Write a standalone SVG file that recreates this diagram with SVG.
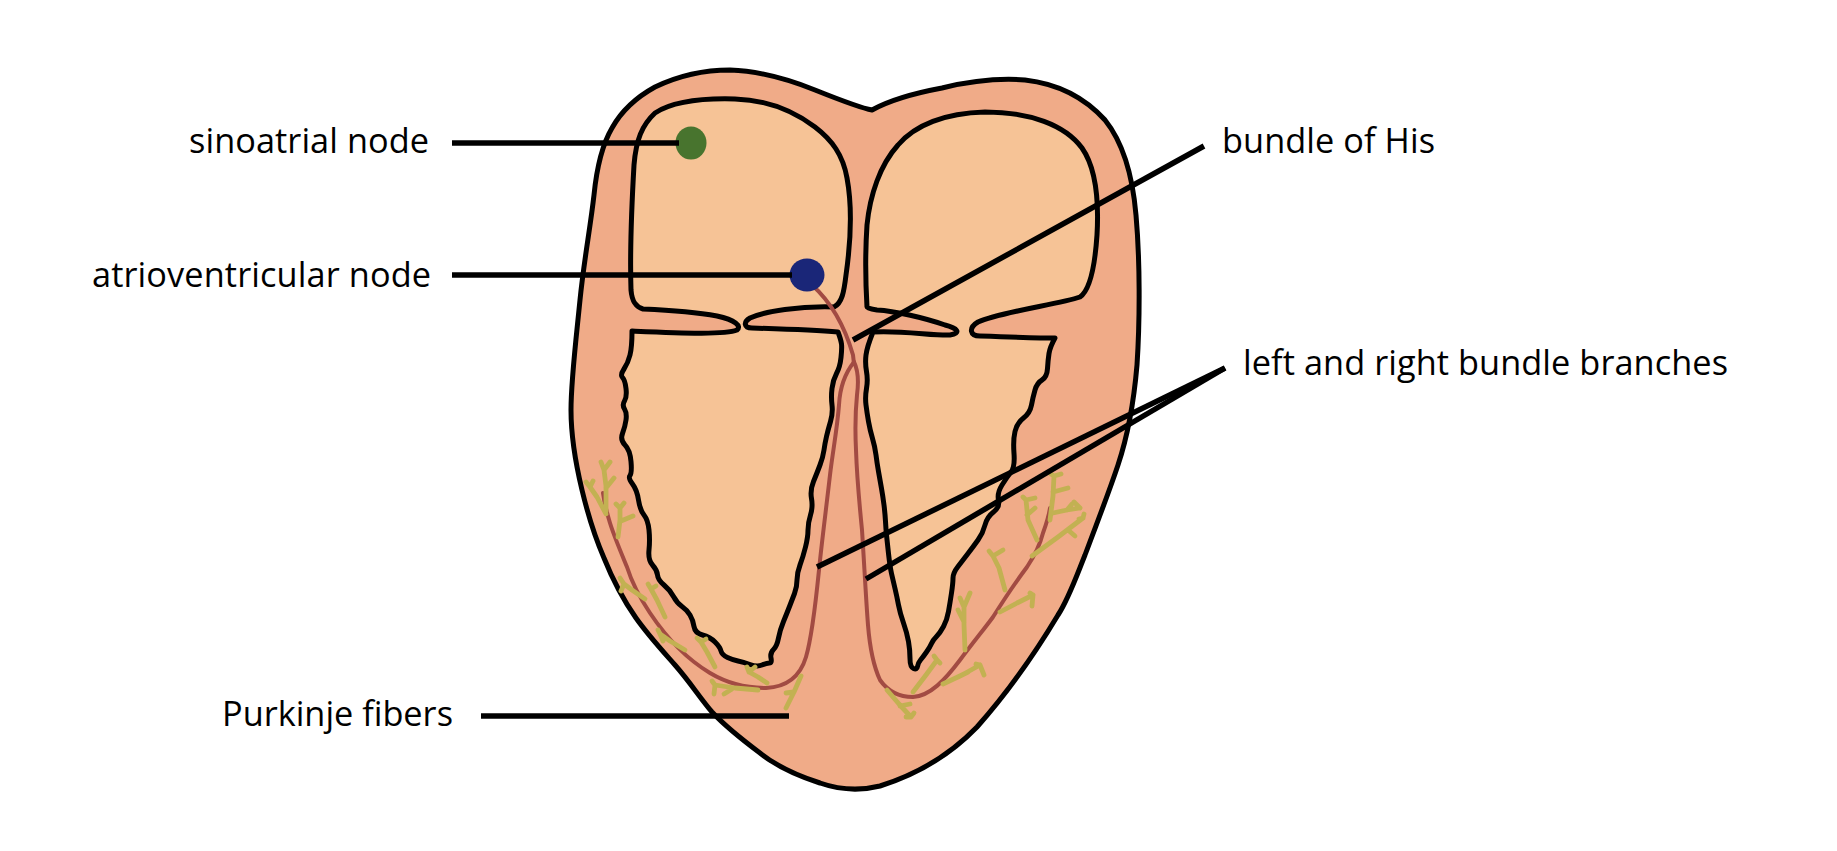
<svg xmlns="http://www.w3.org/2000/svg" width="1837" height="851" viewBox="0 0 1837 851">
<style>
.wall{fill:#F0AB88;stroke:#000;stroke-width:5;stroke-linejoin:round}
.cav{fill:#F6C396;stroke:#000;stroke-width:5;stroke-linejoin:round}
.fib{fill:none;stroke:#A24B43;stroke-width:4;stroke-linecap:round;stroke-linejoin:round}
.pk{fill:none;stroke:#C2B152;stroke-width:4.8;stroke-linecap:round;stroke-linejoin:round}
.ln{stroke:#000;stroke-width:5.5;fill:none}
.lbl{font-family:"Open Sans","Noto Sans",sans-serif;font-size:34.3px;fill:#000}
</style>
<rect width="1837" height="851" fill="#fff"/>
<g id="heart">
<path id="outer-wall" class="wall" d="M872,110 C890,100 910,94 942,88 C975,80 1000,78 1025,80 C1060,84 1085,98 1105,120 C1125,145 1133,180 1136,215 C1140,260 1140,320 1137,365 C1134,400 1128,435 1118,465 C1108,495 1098,520 1085,555 C1075,580 1068,600 1058,615 C1040,645 1010,690 977,727 C950,755 915,775 880,786 C860,791 840,790 820,783 C795,775 775,765 760,753 C740,738 725,726 712,712 C700,698 690,682 675,665 C660,648 648,635 636,618 C622,598 612,578 604,558 C594,535 588,515 582,490 C576,465 571,440 571,410 C571,380 576,340 580,300 C584,260 590,230 594,195 C597,165 602,145 612,128 C622,110 635,98 655,87 C680,75 705,70 730,70 C760,71 790,80 815,90 C840,100 860,108 872,110 Z"/>
<path id="left-cavity" class="cav" d="M643,309 C636,307 632,302 631,290 C630,260 632,200 634,165 C636,140 642,125 655,113 C672,102 700,98 735,99 C770,100 795,112 815,127 C832,140 843,155 847,178 C852,205 851,240 846,275 C844,292 842,303 834,307 C800,306 765,311 750,318 C743,322 744,328 752,328 C785,329 815,330 838,332 Q841,340 841.5,344 Q842,348 841,357.5 Q840,367 836.5,373.5 Q833,380 832,388.5 Q831,397 832,405 Q833,413 830.5,421.5 Q828,430 826.5,436.5 Q825,443 824,450 Q823,457 820,465 Q817,473 813.5,481.5 Q810,490 811.5,498.5 Q813,507 810.5,515 Q808,523 808,530 Q808,537 805.5,547 Q803,557 800,565 Q797,573 797,580 Q797,587 794.5,593.5 Q792,600 789.5,606.5 Q787,613 783.5,621.5 Q780,630 778.5,638 Q777,646 773.5,649.5 Q770,653 771,658 Q772,663 769.5,663 Q767,663 762,665 Q757,667 750,664.5 Q743,662 738,661 Q733,660 727.5,657.5 Q722,655 721,651 Q720,647 715,642 Q710,637 702.5,635 Q695,633 694,626.5 Q693,620 690,615 Q687,610 682,606.5 Q677,603 673.5,596.5 Q670,590 664,585 Q658,580 657.5,575 Q657,570 652.5,565 Q648,560 649,550 Q650,540 649,530 Q648,520 644,515 Q640,510 638.5,500 Q637,490 632.5,484 Q628,478 630,475.5 Q632,473 631,461.5 Q630,450 625,445 Q620,440 622.5,433.5 Q625,427 626,420 Q627,413 624.5,409 Q622,405 624.5,401 Q627,397 626,388.5 Q625,380 622.5,377.5 Q620,375 624,369 Q628,363 630,355 Q632,347 632,331 C680,333 725,335 737,330 C742,326 735,320 717,316 C695,312 665,310 643,309 Z"/>
<path id="right-cavity" class="cav" d="M867,307 C866,290 865,255 867,225 C870,195 880,165 898,145 C915,125 945,113 985,112 C1030,112 1065,125 1082,148 C1096,168 1099,200 1097,235 C1095,265 1090,290 1080,297 C1060,304 1000,312 978,322 C968,328 970,336 980,336 C1010,337 1040,338 1055,338 Q1050,347 1049,353.5 Q1048,360 1047.5,368.5 Q1047,377 1042,380 Q1037,383 1035,390 Q1033,397 1031.5,405 Q1030,413 1023.5,418 Q1017,423 1015,431.5 Q1013,440 1014,453.5 Q1015,467 1011,472 Q1007,477 1002,485 Q997,493 998.5,500 Q1000,507 993.5,512 Q987,517 985,525 Q983,533 978,540 Q973,547 968,553.5 Q963,560 958,566.5 Q953,573 953,578 Q953,583 951.5,593 Q950,603 948.5,611.5 Q947,620 943.5,626.5 Q940,633 936.5,636.5 Q933,640 931.5,643.5 Q930,647 926.5,652 Q923,657 920.5,660 Q918,663 917.5,666.5 Q917,670 913.5,668.5 Q910,667 910,658.5 Q910,650 908.5,641.5 Q907,633 903.5,623 Q900,613 898.5,605 Q897,597 895,588.5 Q893,580 891.5,573.5 Q890,567 888.5,553.5 Q887,540 886.5,535 Q886,530 885.5,521.5 Q885,513 884,505 Q883,497 881.5,488.5 Q880,480 878.5,471.5 Q877,463 876,455 Q875,447 872.5,438.5 Q870,430 868.5,421.5 Q867,413 866,405 Q865,397 866.5,388.5 Q868,380 866.5,371.5 Q865,363 866,355 Q867,347 873,332 C900,330 935,336 950,335 C962,333 957,328 945,325 C925,318 895,311 877,310 C870,309 867,308 867,307 Z"/>
</g>
<g id="conduction-fibers">
<path class="fib" d="M812,285 Q840,310 853,355 L854,364"/>
<path class="fib" d="M854,362 C846,372 840,385 839,405 C837,430 833,450 830,475 C826,510 822,540 819,570 C815,610 811,640 806,657 C800,677 786,687 766,688 C745,688 725,682 710,673 C690,661 668,640 650,613 C640,598 632,583 627,567 C620,550 614,536 610,523 C606,510 604,500 603,493"/>
<path class="fib" d="M854,362 C858,370 859,380 857,395 C855,415 855,430 856,450 C857,480 860,510 862,530 C864,560 866,600 868,625 C870,650 873,665 880,680 C887,690 898,697 913,697 C930,696 945,680 960,660 C975,640 985,628 993,617 C1005,598 1015,583 1027,567 C1035,555 1040,545 1043,533 C1047,522 1049,515 1050,508"/>
</g>
<g id="purkinje-twigs" class="pk">
<path d="M606,512 L606,486 L604,470 M604,470 L601,462 M604,470 L610,462 M606,488 L614,478"/>
<path d="M618,537 L620,520 L620,508 M620,508 L616,504 M620,508 L624,503 M621,521 L633,516"/>
<path d="M606,514 L597,497 L590,487 M590,487 L586,482 M590,487 L593,481"/>
<path d="M645,599 L632,590 L624,584 M624,584 L620,578 M624,584 L621,591"/>
<path d="M665,617 L657,600 L651,589 M651,589 L648,584 M651,589 L656,586"/>
<path d="M685,650 L670,641 L660,634 M660,634 L658,630 M660,634 L663,641"/>
<path d="M715,667 L707,652 L701,642 M701,642 L697,638 M701,642 L706,639"/>
<path d="M758,690 L735,688 L715,685 M715,685 L712,681 M715,685 L714,694 M732,689 L724,694"/>
<path d="M767,683 L758,677 L749,672 M749,672 L747,667 M749,672 L755,667"/>
<path d="M801,676 L794,692 L786,708 M794,692 L786,693"/>
<path d="M887,690 L899,704 L911,717 M911,717 L906,717 M911,717 L914,713 M900,706 L910,704"/>
<path d="M913,692 L926,675 L937,660 M937,660 L934,656 M937,660 L940,663"/>
<path d="M943,684 L962,675 L980,665 M980,665 L976,664 M980,665 L984,675 M958,677 L968,672"/>
<path d="M965,650 L964,625 L964,607 M964,607 L960,598 M964,607 L970,593 M964,622 L958,610"/>
<path d="M1005,590 L999,568 L993,556 M993,556 L989,551 M993,556 L1003,550"/>
<path d="M1000,612 L1017,603 L1033,595 M1033,595 L1030,593 M1033,595 L1032,606"/>
<path d="M1032,556 L1058,537 L1083,518 M1083,518 L1079,519 M1083,518 L1084,514 M1068,530 L1075,536"/>
<path d="M1037,540 L1028,520 L1026,500 M1026,500 L1023,497 M1026,500 L1035,498 M1027,515 L1035,508"/>
<path d="M1050,520 L1053,496 L1054,476 M1054,476 L1051,474 M1054,476 L1061,474 M1053,492 L1068,488"/>
<path d="M1053,513 L1067,510 L1080,508 M1080,508 L1074,502 M1067,510 L1072,504"/>
</g>
<g id="sinoatrial-node"><ellipse cx="691" cy="143" rx="15.5" ry="16.5" fill="#48742E"/></g>
<g id="av-node"><ellipse cx="807" cy="275" rx="17.5" ry="16.5" fill="#1A2678"/></g>
<g id="connectors">
<line class="ln" x1="452" y1="143" x2="679" y2="143"/>
<line class="ln" x1="452" y1="275" x2="792" y2="275"/>
<line class="ln" x1="853" y1="340" x2="1204" y2="146"/>
<line class="ln" x1="817" y1="567" x2="1225" y2="368"/>
<line class="ln" x1="866" y1="579" x2="1225" y2="368"/>
<line class="ln" x1="481" y1="716" x2="789" y2="716"/>
</g>
<g id="labels">
<text class="lbl" x="189" y="153" textLength="240" lengthAdjust="spacing">sinoatrial node</text>
<text class="lbl" x="92" y="287" textLength="339" lengthAdjust="spacing">atrioventricular node</text>
<text class="lbl" x="1222" y="153" textLength="213" lengthAdjust="spacing">bundle of His</text>
<text class="lbl" x="1243" y="375" textLength="485" lengthAdjust="spacing">left and right bundle branches</text>
<text class="lbl" x="222" y="726" textLength="231" lengthAdjust="spacing">Purkinje fibers</text>
</g>
</svg>
